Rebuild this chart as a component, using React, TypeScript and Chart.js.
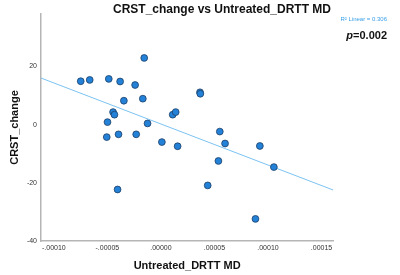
import React, { useEffect, useRef } from "react";
import { Chart, registerables } from "chart.js";

Chart.register(...registerables);

// Observed data (Untreated_DRTT MD vs CRST_change)
const xValues = [
  -1.56e-5, -7.49e-5, -6.65e-5, -4.87e-5, -3.81e-5, -2.41e-5, -3.46e-5, -1.69e-5,
  -4.47e-5, -4.34e-5, -4.99e-5, -1.25e-5, 1.1e-5, 1.38e-5, -5.06e-5, -3.96e-5,
  -2.31e-5, 0.09e-5, 1.56e-5, 3.65e-5, 3.68e-5, 5.5e-5, 5.99e-5, 9.24e-5,
  5.37e-5, 10.55e-5, 4.37e-5, -4.05e-5, 8.83e-5,
];
const yValues = [
  22.9, 14.9, 15.35, 15.7, 14.8, 13.6, 8.2, 8.9,
  4.3, 3.4, 0.85, 0.4, 3.4, 4.3, -4.3, -3.35,
  -3.35, -6.0, -7.45, 11.1, 10.6, -2.4, -6.5, -7.35,
  -12.5, -14.6, -20.9, -22.3, -32.4,
];

// Fit line endpoints
const fitX = [-0.000112, 0.000161];
const fitY = [16.0, -22.5];

const xTicks = [-0.0001, -0.00005, 0, 0.00005, 0.0001, 0.00015];
const xTickLabels = ["-.00010", "-.00005", ".00000", ".00005", ".00010", ".00015"];
const yTicks = [-40, -20, 0, 20];
const yTickLabels = ["-40", "-20", "0", "20"];

const titleText = "CRST_change vs Untreated_DRTT MD";
const xTitle = "Untreated_DRTT MD";
const yTitle = "CRST_change";
const r2Text = "R\u00B2 Linear = 0.306";
const pValue = "=0.002";

const FONT = "'Liberation Sans', Arial, Helvetica, sans-serif";

export default function App() {
  const ref = useRef<HTMLCanvasElement | null>(null);

  useEffect(() => {
    document.body.style.margin = "0";
    const canvas = ref.current;
    if (!canvas) return;

    const textPlugin = {
      id: "textPlugin",
      afterDraw(chart: any) {
        const ctx = chart.ctx;
        const area = chart.chartArea;
        ctx.save();
        ctx.fillStyle = "#111";
        // Title
        ctx.font = `bold 12px ${FONT}`;
        ctx.textAlign = "center";
        ctx.textBaseline = "alphabetic";
        ctx.fillText(titleText, 222, 12.5);
        // X title
        ctx.font = `bold 11px ${FONT}`;
        ctx.fillText(xTitle, (area.left + area.right) / 2, 269);
        // Y title
        ctx.save();
        ctx.translate(18, (area.top + area.bottom) / 2);
        ctx.rotate(-Math.PI / 2);
        ctx.fillText(yTitle, 0, 0);
        ctx.restore();
        // R2 text
        ctx.font = `6px ${FONT}`;
        ctx.fillStyle = "#3a9fe8";
        ctx.textAlign = "right";
        ctx.fillText(r2Text, 387, 20.5);
        // p value
        ctx.fillStyle = "#111";
        ctx.font = `bold 11px ${FONT}`;
        const w = ctx.measureText(pValue).width;
        ctx.fillText(pValue, 387, 39);
        ctx.font = `italic bold 11px ${FONT}`;
        ctx.fillText("p", 387 - w, 39);
        ctx.restore();
      },
    };

    const chart = new Chart(canvas, {
      type: "scatter",
      data: {
        datasets: [
          {
            type: "line",
            label: "fit",
            data: fitX.map((x, i) => ({ x, y: fitY[i] })),
            borderColor: "#7cc3f2",
            borderWidth: 1,
            pointRadius: 0,
            fill: false,
            order: 2,
          } as any,
          {
            label: "points",
            data: xValues.map((x, i) => ({ x, y: yValues[i] })),
            backgroundColor: "#2381d8",
            borderColor: "#1d3f66",
            borderWidth: 0.8,
            pointRadius: 3.4,
            order: 1,
          },
        ],
      },
      options: {
        responsive: false,
        animation: false,
        events: [],
        layout: { padding: { left: 0, top: 14, right: 66.7, bottom: 0 } },
        plugins: {
          legend: { display: false },
          tooltip: { enabled: false },
          title: { display: false },
        },
        scales: {
          x: {
            type: "linear",
            min: -0.000112,
            max: 0.000161,
            grid: { display: false, drawTicks: false },
            border: { display: true, color: "#b5b5b5", width: 1.5 },
            afterBuildTicks: (scale: any) => {
              scale.ticks = xTicks.map((v) => ({ value: v }));
            },
            afterFit: (scale: any) => {
              scale.height = 34;
            },
            ticks: {
              autoSkip: false,
              maxRotation: 0,
              minRotation: 0,
              padding: 3,
              color: "#333",
              font: { size: 7, family: FONT },
              callback: (_v: any, i: number) => xTickLabels[i],
            },
          },
          y: {
            type: "linear",
            min: -40,
            max: 38,
            grid: { display: false, drawTicks: false },
            border: { display: true, color: "#b5b5b5", width: 1.5 },
            afterBuildTicks: (scale: any) => {
              scale.ticks = yTicks.map((v) => ({ value: v }));
            },
            afterFit: (scale: any) => {
              scale.width = 41;
            },
            ticks: {
              autoSkip: false,
              padding: 4,
              color: "#333",
              font: { size: 7, family: FONT },
              callback: (_v: any, i: number) => yTickLabels[i],
            },
          },
        },
      },
      plugins: [textPlugin],
    });

    return () => chart.destroy();
  }, []);

  return (
    <div style={{ width: 400, height: 275, background: "#fff" }}>
      <canvas ref={ref} width={400} height={275} style={{ display: "block" }} />
    </div>
  );
}
